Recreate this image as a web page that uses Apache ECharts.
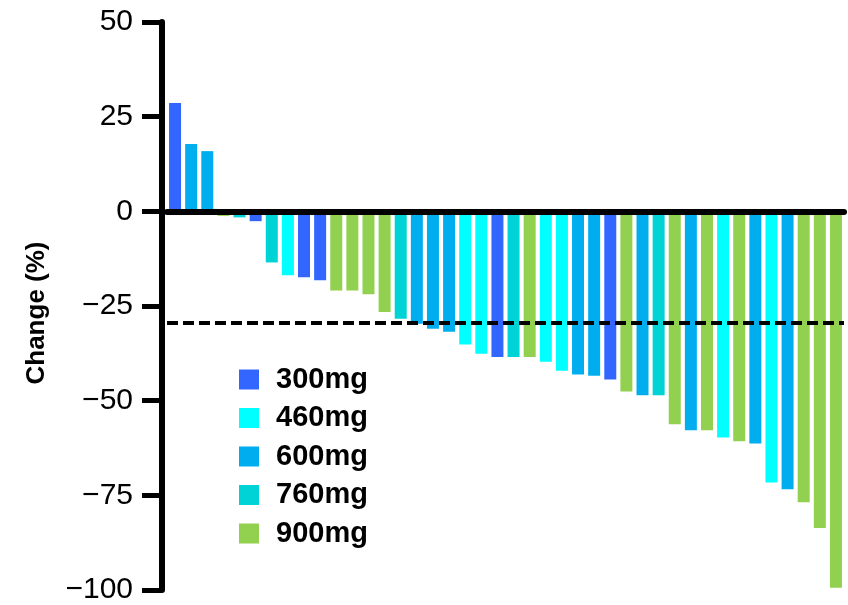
<!DOCTYPE html>
<html>
<head>
<meta charset="utf-8">
<script src="https://cdn.jsdelivr.net/npm/echarts@6/dist/echarts.min.js"></script>
<style>
  html, body { margin: 0; padding: 0; background: #fff; }
  #chart { width: 848px; height: 605px; }
</style>
</head>
<body>
<div id="chart"></div>
<script>
// dose groups and their colours
var doseNames = ['300mg', '460mg', '600mg', '760mg', '900mg'];
var doseColors = ['#3366FF', '#00FFFF', '#00AEEF', '#00D3D5', '#92D050'];

// one entry per patient, in plotted order
var patientDose = [
  '300mg', '600mg', '600mg', '900mg', '760mg', '300mg', '760mg', '460mg', '300mg', '300mg',
  '900mg', '900mg', '900mg', '900mg', '760mg', '600mg', '600mg', '600mg', '460mg', '460mg',
  '300mg', '760mg', '900mg', '460mg', '460mg', '600mg', '600mg', '300mg', '900mg', '600mg',
  '760mg', '900mg', '600mg', '900mg', '460mg', '900mg', '600mg', '460mg', '600mg', '900mg',
  '900mg', '900mg'
];
var patientChange = [
  28.6, 17.8, 15.9, -1.2, -1.6, -2.6, -13.5, -16.9, -17.4, -18.2,
  -20.9, -20.9, -21.9, -26.6, -28.4, -29.7, -31.0, -31.8, -35.2, -37.6,
  -38.5, -38.5, -38.5, -39.7, -42.1, -43.1, -43.4, -44.4, -47.6, -48.6,
  -48.6, -56.2, -57.8, -57.8, -59.7, -60.7, -61.3, -71.6, -73.4, -76.8,
  -83.6, -99.4
];
var yTicks = [50, 25, 0, -25, -50, -75, -100];
var threshold = -29.5;

var categories = patientChange.map(function (v, i) { return 'P' + (i + 1); });

var series = doseNames.map(function (dose, k) {
  var s = {
    name: dose,
    type: 'bar',
    stack: 'all',
    barWidth: 12,
    itemStyle: { color: doseColors[k] },
    data: patientChange.map(function (v, i) {
      return patientDose[i] === dose ? v : null;
    })
  };
  if (k === 0) {
    s.markLine = {
      silent: true,
      symbol: 'none',
      label: { show: false },
      lineStyle: { color: '#000', type: [11, 5], width: 4 },
      data: [{ yAxis: threshold }]
    };
  }
  return s;
});

var chart = echarts.init(document.getElementById('chart'));
chart.setOption({
  animation: false,
  textStyle: { fontFamily: 'Liberation Sans, Arial, sans-serif' },
  grid: { left: 167, right: 4, top: 22, bottom: 12, containLabel: false },
  legend: {
    orient: 'vertical',
    left: 234,
    top: 360,
    itemWidth: 20,
    itemHeight: 20,
    itemGap: 9.5,
    icon: 'rect',
    textStyle: { fontSize: 29, fontWeight: 'bold', color: '#000', padding: [0, 0, 0, 12] },
    data: doseNames
  },
  xAxis: {
    type: 'category',
    data: categories,
    z: 5,
    axisLine: { onZero: true, lineStyle: { color: '#000', width: 6 } },
    axisTick: { show: false },
    axisLabel: { show: false },
    splitLine: { show: false }
  },
  yAxis: {
    type: 'value',
    min: yTicks[yTicks.length - 1],
    max: yTicks[0],
    interval: 25,
    offset: 5,
    name: 'Change (%)',
    nameLocation: 'middle',
    nameGap: 112,
    nameTextStyle: { fontSize: 26, fontWeight: 'bold', color: '#000', padding: [0, 14, 0, 0] },
    axisLine: { show: true, lineStyle: { color: '#000', width: 6 } },
    axisTick: { show: true, length: 20, lineStyle: { color: '#000', width: 5 } },
    axisLabel: {
      fontSize: 30,
      color: '#000',
      margin: 29,
      formatter: function (v) { return String(v).replace('-', '\u2212'); }
    },
    splitLine: { show: false }
  },
  series: series
});
</script>
</body>
</html>
